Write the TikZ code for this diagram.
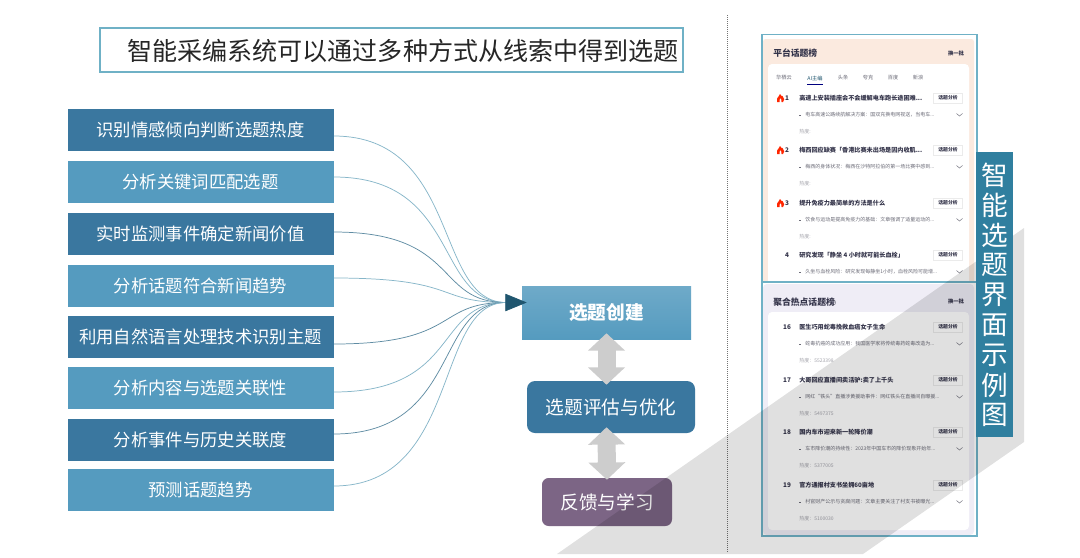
\documentclass[tikz,border=0pt]{standalone}
\usepackage{fontspec}
\setmainfont{Noto Sans CJK SC}
\usetikzlibrary{arrows.meta,calc}
\definecolor{darkblue}{HTML}{3A779F}
\definecolor{lightblue}{HTML}{559BBF}
\definecolor{linelight}{HTML}{86B6C9}
\definecolor{linedark}{HTML}{5F8CA3}
\definecolor{hubcol}{HTML}{20566F}
\definecolor{frame}{HTML}{6FB1C6}
\definecolor{labelcol}{HTML}{307F9F}
\definecolor{purplebox}{HTML}{7C6585}
\definecolor{dblgray}{HTML}{CDCDCD}
\definecolor{peach}{HTML}{FBEADF}
\definecolor{lav}{HTML}{EFEDF6}
\definecolor{ink}{HTML}{34344A}
\definecolor{subink}{HTML}{6C6C78}
\definecolor{heatink}{HTML}{A4A4AC}
\newcommand{\fsz}[1]{\fontsize{#1}{#1}\selectfont}
\tikzset{
  x=.75pt,y=-.75pt,
  leftbox/.style={minimum width=199.5pt,minimum height=32pt,inner sep=0pt,text=white,font=\fsz{13pt}},
  dk/.style={leftbox,fill=darkblue},
  lt/.style={leftbox,fill=lightblue},
  link/.style={line width=.55pt,draw=linelight},
  linkd/.style={line width=.55pt,draw=linedark},
  dbl/.style={line width=13.5pt,draw=dblgray,{Triangle[length=13pt,width=27pt]}-{Triangle[length=13pt,width=27pt]}},
  rtitle/.style={anchor=west,inner sep=0pt,text=ink,font=\fsz{4.6pt}\bfseries},
  rsub/.style={anchor=west,inner sep=0pt,text=subink,font=\fsz{3.75pt}},
  rheat/.style={anchor=west,inner sep=0pt,text=heatink,font=\fsz{3.75pt}},
  rnum/.style={inner sep=0pt,text=ink,font=\fsz{4.8pt}\bfseries},
  badge/.style={minimum width=22pt,minimum height=7.5pt,inner sep=0pt,draw=black!8,fill=white,text=ink,font=\fsz{3.6pt}\bfseries},
  tab/.style={inner sep=0pt,text=subink,font=\fsz{3.9pt}},
  phead/.style={anchor=west,inner sep=0pt,text=ink,font=\fsz{6.6pt}\bfseries},
  pmore/.style={inner sep=0pt,text=ink,font=\fsz{4pt}\bfseries},
}
\newcommand{\chev}[1]{\draw[subink,line width=.35pt] (956.5,#1-1.5) -- (959.5,#1+1) -- (962.5,#1-1.5);}
\newcommand{\prow}[6]{% y num title sub heat name
  \node[rnum] (n#6) at (787,#1) {#2};
  \node[rtitle] (t#6) at (799,#1) {#3};
  \node[badge] (b#6) at (948,#1) {话题分析};
  \draw[subink,line width=.3pt] (799,#1+17) -- (801,#1+17);
  \node[rsub] (s#6) at (805,#1+17) {#4};
  \chev{#1+17}
  \node[rheat] (h#6) at (799,#1+34) {#5};
}
\newcommand{\flame}[1]{\fill[red!70!orange] (777,#1+4) .. controls (775.5,#1+1) and (778,#1) .. (780,#1-4) .. controls (781,#1-2) and (782,#1-1.5) .. (782.5,#1-2) .. controls (784.5,#1) and (785,#1+3) .. (783,#1+4) -- (781.5,#1+4) .. controls (782,#1+2) and (781,#1+1) .. (780.5,#1) .. controls (780,#1+1) and (779,#1+2) .. (779.5,#1+4) -- cycle;}
\begin{document}
\begin{tikzpicture}
\useasboundingbox (0,0) rectangle (1080,557);
\fill[white] (0,0) rectangle (1080,557);
% title
\node[draw=frame,line width=.8pt,minimum width=437.25pt,minimum height=33pt,inner sep=0pt] (titlebox) at (391.5,50) {};
\node[inner sep=0pt,text=black!85,font=\fsz{18.8pt}] (titletext) at (403,51) {智能采编系统可以通过多种方式从线索中得到选题};
% left boxes
\node[dk] (a1) at (200.5,130) {识别情感倾向判断选题热度};
\node[lt] (a2) at (200.5,182) {分析关键词匹配选题};
\node[dk] (a3) at (200.5,234) {实时监测事件确定新闻价值};
\node[lt] (a4) at (200.5,286) {分析话题符合新闻趋势};
\node[dk] (a5) at (200.5,337) {利用自然语言处理技术识别主题};
\node[lt] (a6) at (200.5,388) {分析内容与选题关联性};
\node[dk] (a7) at (200.5,440) {分析事件与历史关联度};
\node[lt] (a8) at (200.5,490) {预测话题趋势};
% right column boxes
\node[minimum width=126.75pt,minimum height=39.75pt,inner sep=0pt,top color=black!0!white!0!lightblue!85!white,bottom color=lightblue,text=white,font=\fsz{14pt}\bfseries] (sel) at (606.5,312.5) {选题创建};
\node[minimum width=126pt,minimum height=39pt,inner sep=0pt,rounded corners=6pt,fill=darkblue,text=white,font=\fsz{14pt}] (eval) at (611,407) {选题评估与优化};
\node[minimum width=97.5pt,minimum height=36pt,inner sep=0pt,rounded corners=5pt,fill=purplebox,text=white,font=\fsz{14pt}] (feed) at (607,502) {反馈与学习};
% connectors
\coordinate (hub) at (506,302.5);
\coordinate (s1) at ($(a1.east)+(0,6)$);
\coordinate (s2) at ($(a2.east)+(0,-5)$);
\coordinate (s3) at ($(a3.east)+(0,-2)$);
\coordinate (s4) at ($(a4.east)+(0,-8)$);
\coordinate (s5) at ($(a5.east)+(0,7)$);
\coordinate (s6) at ($(a6.east)+(0,4)$);
\coordinate (s7) at ($(a7.east)+(0,-6)$);
\coordinate (s8) at ($(a8.east)+(0,-4)$);
\foreach \i/\st in {1/link,2/link,3/linkd,4/link,5/linkd,6/link,7/linkd,8/link}{
  \draw[\st] (s\i) .. controls +(127,0) and +(-72,0) .. (hub);
}
\draw[draw=hubcol,line width=.5pt,-{Triangle[length=16pt,width=13pt,fill=hubcol]}] (hub) -- ($(sel.west)+(5,-10)$);
\draw[dbl] ($(sel.south)+(0,-6)$) -- ($(sel.south |- eval.north)+(0,4)$);
\draw[dbl] ($(sel.south |- eval.south)+(0,-6)$) -- ($(feed.north)+(0,2)$);
% divider
\draw[black!55,line width=.5pt,densely dotted] (727,15) -- (727,553);
% upper panel
\fill[peach,rounded corners=2pt] (763,39) rectangle (974,285);
\fill[white,rounded corners=3pt] (768,64) rectangle (969,285);
\node[phead] (ph1) at (773,53) {平台话题榜};
\node[pmore] (pm1) at (956,53) {换一批};
\node[tab] (tb1) at (784,78) {华栖云};
\node[tab,text=hubcol] (tb2) at (815,78) {AI主编};
\node[tab] (tb3) at (843,78) {头条};
\node[tab] (tb4) at (868,78) {夸克};
\node[tab] (tb5) at (893,78) {百度};
\node[tab] (tb6) at (918,78) {新浪};
\draw[blue!50!black,line width=.6pt] (807,84.5) -- (823,84.5);
\flame{98}\flame{150}\flame{203}
\prow{98}{1}{高速上安装插座会不会缓解电车跑长途困难...}{电车高速公路续航解决方案：国双充换电网视送，当电车...}{热度:}{u1}
\prow{150}{2}{梅西回应缺赛「香港比赛未出场是因内收肌...}{梅西的身体状况：梅西在沙特阿拉伯的第一场比赛中感到...}{热度:}{u2}
\prow{203}{3}{提升免疫力最简单的方法是什么}{饮食与运动是提高免疫力的基础：文章强调了适量运动的...}{热度:}{u3}
\node[rnum] (nu4) at (787,255) {4};
\node[rtitle] (tu4) at (799,255) {研究发现「静坐 4 小时就可能长血栓」};
\node[badge] (bu4) at (948,255) {话题分析};
\draw[subink,line width=.3pt] (799,272) -- (801,272);
\node[rsub] (su4) at (805,272) {久坐与血栓风险：研究发现每静坐1小时，血栓风险可能增...};
\chev{272}
% lower panel
\fill[white] (761,282) rectangle (977,537);
\fill[lav,rounded corners=3pt] (763,284) rectangle (974,535);
\fill[white,rounded corners=3pt] (768,312) rectangle (969,530);
\node[phead] (ph2) at (773,302) {聚合热点话题榜};
\draw[subink,line width=.3pt] (833,302.5) circle (2pt);
\node[pmore] (pm2) at (956,301) {换一批};
\prow{327}{16}{医生巧用蛇毒挽救血癌女子生命}{蛇毒抗癌的成功应用：我国医学家将传统毒药蛇毒改造为...}{热度：5523398}{v1}
\prow{380}{17}{大哥回应直播间卖活驴:卖了上千头}{网红“铁头”直播涉黄援助事件：网红铁头在直播间自曝援...}{热度：5497375}{v2}
\prow{432}{18}{国内车市迎来新一轮降价潮}{车市降价潮的持续性：2023年中国车市的降价现象开始年...}{热度：5377005}{v3}
\prow{485}{19}{官方通报村支书坐拥60亩地}{村官财产公示与贪腐问题：文章主要关注了村支书被曝光...}{热度：5100030}{v4}
\draw[frame,line width=.8pt] (762,34.5) rectangle (977,536);
\draw[frame,line width=.8pt] (762,282) -- (977,282);
% diagonal band
\fill[black,opacity=.12] (557,554) -- (1024,228) -- (1024,442) -- (863,554) -- cycle;
% side label
\node[fill=labelcol,minimum width=27.75pt,minimum height=213.75pt,inner sep=0pt] (sidebox) at (994.5,294.5) {};
\foreach \c [count=\k from 0] in {智,能,选,题,界,面,示,例,图}{
  \node[inner sep=0pt,text=white,font=\fsz{20pt}] (side\k) at (994.5,175+30*\k) {\c};
}
\end{tikzpicture}
\end{document}
